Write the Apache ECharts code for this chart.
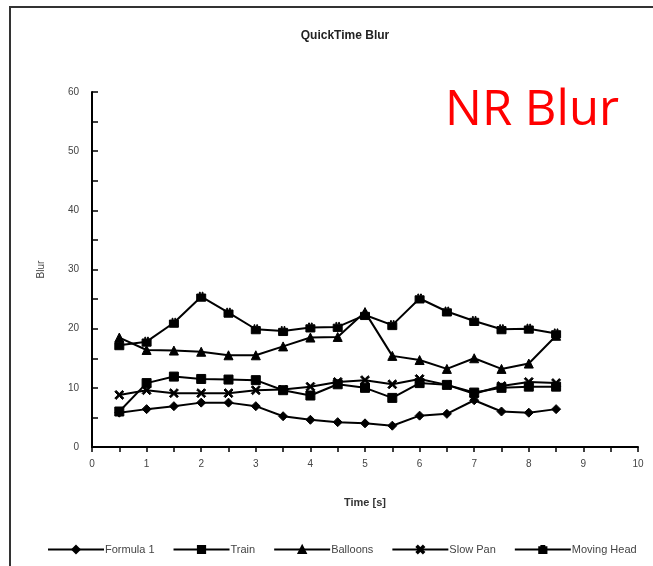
<!DOCTYPE html>
<html>
<head>
<meta charset="utf-8">
<script src="https://cdn.jsdelivr.net/npm/echarts@6/dist/echarts.min.js"></script>
<style>
html, body { margin: 0; padding: 0; background: #fff; }
#main { width: 653px; height: 566px; }
</style>
</head>
<body>
<div id="main"></div>
<script>
var times = [0.5, 1, 1.5, 2, 2.5, 3, 3.5, 4, 4.5, 5, 5.5, 6, 6.5, 7, 7.5, 8, 8.5];
var formula1 = [5.8, 6.4, 6.9, 7.5, 7.5, 6.9, 5.2, 4.6, 4.2, 4.0, 3.6, 5.3, 5.6, 7.9, 6.0, 5.8, 6.4];
var train = [6.0, 10.8, 11.9, 11.5, 11.4, 11.3, 9.6, 8.7, 10.6, 10.0, 8.3, 10.8, 10.5, 9.2, 10.0, 10.2, 10.2];
var balloons = [18.5, 16.4, 16.3, 16.1, 15.5, 15.5, 17.0, 18.5, 18.6, 22.8, 15.4, 14.7, 13.2, 15.0, 13.2, 14.1, 18.8];
var slowPan = [8.8, 9.6, 9.1, 9.1, 9.1, 9.6, 9.7, 10.2, 11.0, 11.3, 10.6, 11.5, 10.5, 9.0, 10.3, 11.0, 10.8];
var movingHead = [17.2, 17.8, 21.0, 25.4, 22.7, 19.9, 19.6, 20.2, 20.3, 22.3, 20.6, 25.1, 22.9, 21.3, 19.9, 20.0, 19.2];

var names = ['Formula 1', 'Train', 'Balloons', 'Slow Pan', 'Moving Head'];
var values = [formula1, train, balloons, slowPan, movingHead];
var symbols = [
    'diamond',
    'rect',
    'triangle',
    'path://M0,1.5 L1.5,0 L5,3.5 L8.5,0 L10,1.5 L6.5,5 L10,8.5 L8.5,10 L5,6.5 L1.5,10 L0,8.5 L3.5,5 Z',
    'path://M0,2 L3,2 L3,0 L4,0 L4,2 L6,2 L6,0 L7,0 L7,2 L10,2 L10,10 L0,10 Z'
];

function pairs(arr) {
    return times.map(function (t, i) { return [t, arr[i]]; });
}

var chart = echarts.init(document.getElementById('main'));
var option = {
    backgroundColor: '#fff',
    animation: false,
    color: ['#000', '#000', '#000', '#000', '#000'],
    title: [{
        text: 'QuickTime Blur',
        left: 340,
        top: 25,
        textAlign: 'center',
        textStyle: { color: '#222', fontSize: 12, fontWeight: 'bold', fontFamily: 'Liberation Sans' }
    }, {
        text: 'NR Blur',
        left: 440,
        top: 82,
        textStyle: { color: '#ff0000', fontSize: 49, fontWeight: 'normal', fontFamily: 'Open Sans' }
    }],
    graphic: [{
        type: 'rect',
        shape: { x: 10, y: 7, width: 700, height: 600 },
        style: { fill: 'none', stroke: '#333', lineWidth: 2 }
    }],
    legend: {
        bottom: 6,
        left: 42,
        itemGap: 18,
        itemWidth: 56,
        itemHeight: 9,
        textStyle: { color: '#444', fontSize: 11, fontFamily: 'Liberation Sans', padding: [0, 0, 0, -4] },
        data: names
    },
    grid: { left: 92, top: 92, width: 546, height: 355, containLabel: false },
    xAxis: {
        type: 'value',
        min: 0, max: 10, interval: 1,
        name: 'Time [s]',
        nameLocation: 'middle',
        nameGap: 50,
        nameTextStyle: { color: '#333', fontSize: 11, fontWeight: 'bold', fontFamily: 'Liberation Sans' },
        axisLine: { lineStyle: { color: '#000', width: 2 } },
        axisTick: { show: true, length: 5, lineStyle: { color: '#000', width: 1.5 } },
        minorTick: { show: true, splitNumber: 2, length: 5, lineStyle: { color: '#000', width: 1.5 } },
        axisLabel: { color: '#444', fontSize: 10, margin: 12, fontFamily: 'Liberation Sans' },
        splitLine: { show: false }
    },
    yAxis: {
        type: 'value',
        min: 0, max: 60, interval: 10,
        name: 'Blur',
        nameLocation: 'middle',
        nameGap: 46,
        nameTextStyle: { color: '#444', fontSize: 10, fontFamily: 'Liberation Sans' },
        axisLine: { show: true, lineStyle: { color: '#000', width: 2 } },
        axisTick: { show: true, inside: true, length: 6, lineStyle: { color: '#000', width: 1.5 } },
        minorTick: { show: true, splitNumber: 2, length: 6, lineStyle: { color: '#000', width: 1.5 } },
        axisLabel: { color: '#444', fontSize: 10, margin: 13, fontFamily: 'Liberation Sans' },
        splitLine: { show: false }
    },
    series: names.map(function (n, i) {
        return {
            name: n,
            type: 'line',
            data: pairs(values[i]),
            symbol: symbols[i],
            symbolSize: 9,
            showAllSymbol: true,
            lineStyle: { color: '#000', width: 2 },
            itemStyle: { color: '#000', borderColor: '#000', borderWidth: 1 }
        };
    })
};
chart.setOption(option);
</script>
</body>
</html>
